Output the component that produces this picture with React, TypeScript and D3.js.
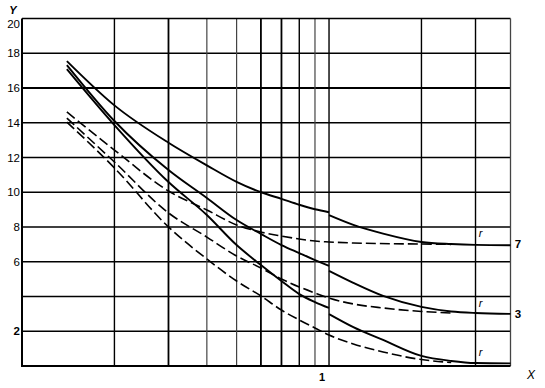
import React from 'react';
import * as d3 from 'd3';

// grid / ticks
const X_GRID = [0.2, 0.3, 0.4, 0.5, 0.6, 0.7, 0.8, 0.9, 1, 2, 3];
const Y_GRID = [2, 4, 6, 8, 10, 12, 14, 16, 18];
const Y_TICK_LABELS = [2, 6, 8, 10, 12, 14, 16, 18, 20];
const X_TICK_LABELS = [1];

// solid curve ending at 7
const SOLID7_LEFT_X = [0.14, 0.2, 0.3, 0.4, 0.5, 0.6, 0.7, 0.8, 0.9, 1.0];
const SOLID7_LEFT_Y = [17.55, 15.0, 12.85, 11.55, 10.6, 10.0, 9.62, 9.28, 9.02, 8.85];
const SOLID7_RIGHT_X = [1.0, 1.2, 1.5, 2.0, 2.5, 3.0, 3.9];
const SOLID7_RIGHT_Y = [8.68, 8.12, 7.62, 7.14, 7.02, 6.97, 6.95];

// solid curve ending at 3
const SOLID3_LEFT_X = [0.14, 0.2, 0.3, 0.4, 0.5, 0.6, 0.7, 0.8, 0.9, 1.0];
const SOLID3_LEFT_Y = [17.32, 14.1, 11.28, 9.67, 8.4, 7.6, 6.96, 6.5, 6.1, 5.76];
const SOLID3_RIGHT_X = [1.0, 1.2, 1.5, 2.0, 2.5, 3.0, 3.9];
const SOLID3_RIGHT_Y = [5.47, 4.78, 4.03, 3.4, 3.14, 3.05, 3.0];

// solid curve ending near 0
const SOLID0_LEFT_X = [0.14, 0.2, 0.3, 0.4, 0.5, 0.6, 0.7, 0.8, 0.9, 1.0];
const SOLID0_LEFT_Y = [17.09, 13.87, 10.59, 8.69, 6.96, 5.81, 4.89, 4.14, 3.68, 3.34];
const SOLID0_RIGHT_X = [1.0, 1.2, 1.5, 2.0, 2.5, 3.0, 3.9];
const SOLID0_RIGHT_Y = [2.99, 2.24, 1.5, 0.58, 0.29, 0.17, 0.15];

// dashed curves
const DASH7_X = [0.14, 0.2, 0.3, 0.4, 0.5, 0.6, 0.7, 0.8, 0.9, 1.0, 1.2, 2.0, 2.5];
const DASH7_Y = [14.62, 12.43, 10.07, 8.98, 8.12, 7.71, 7.48, 7.31, 7.19, 7.14, 7.08, 7.02, 7.0];
const DASH3_X = [0.14, 0.2, 0.3, 0.4, 0.5, 0.6, 0.7, 0.8, 0.9, 1.0, 1.2, 1.5, 2.0, 2.5];
const DASH3_Y = [14.27, 11.74, 8.81, 7.42, 6.33, 5.64, 5.01, 4.55, 4.2, 3.91, 3.57, 3.34, 3.14, 3.05];
const DASH0_X = [0.14, 0.2, 0.3, 0.4, 0.5, 0.6, 0.7, 0.8, 0.9, 1.0, 1.2, 1.5, 2.0, 2.5];
const DASH0_Y = [14.04, 11.4, 8.0, 6.16, 4.89, 4.03, 3.22, 2.65, 2.19, 1.78, 1.27, 0.81, 0.37, 0.2];

// end labels
const END_LABELS = ['7', '3'];
const END_VALUES = [7, 3];
const R_VALUES = [7, 3, 0.15];

const W = 545;
const H = 388;
const FONT = '"Liberation Sans", Arial, Helvetica, sans-serif';

const zip = (xs: number[], ys: number[]) => xs.map((v, i) => [v, ys[i]] as [number, number]);

export default function App() {
  const x = d3.scaleLog().domain([0.1, 3.9]).range([22, 510.5]);
  const y = d3.scaleLinear().domain([0, 20]).range([366, 18.5]);
  const line = d3
    .line<[number, number]>()
    .x((d) => x(d[0]))
    .y((d) => y(d[1]))
    .curve(d3.curveMonotoneX);

  const solids = [
    zip(SOLID7_LEFT_X, SOLID7_LEFT_Y),
    zip(SOLID7_RIGHT_X, SOLID7_RIGHT_Y),
    zip(SOLID3_LEFT_X, SOLID3_LEFT_Y),
    zip(SOLID3_RIGHT_X, SOLID3_RIGHT_Y),
    zip(SOLID0_LEFT_X, SOLID0_LEFT_Y),
    zip(SOLID0_RIGHT_X, SOLID0_RIGHT_Y),
  ];
  const dashes = [zip(DASH7_X, DASH7_Y), zip(DASH3_X, DASH3_Y), zip(DASH0_X, DASH0_Y)];

  const [x0, x1] = x.range();
  const [y0, y1] = y.range();
  const heavyX = new Set([0.3, 0.6, 0.7]);
  const lightX = new Set([0.4, 0.5, 0.9]);

  return (
    <svg
      width={W}
      height={H}
      style={{ position: 'absolute', left: 0, top: 0, background: '#fff' }}
      fontFamily={FONT}
    >
      <rect x={0} y={0} width={W} height={H} fill="#fff" />
      {/* horizontal grid */}
      {Y_GRID.map((v) => (
        <line key={'h' + v} x1={x0} x2={x1} y1={y(v)} y2={y(v)} stroke="#000" strokeWidth={v === 16 ? 1.8 : 1.5} />
      ))}
      {/* vertical grid */}
      {X_GRID.map((v) => (
        <line
          key={'v' + v}
          x1={x(v)}
          x2={x(v)}
          y1={y0}
          y2={y1}
          stroke={lightX.has(v) ? '#444' : '#000'}
          strokeWidth={heavyX.has(v) ? 1.8 : lightX.has(v) ? 1.2 : 1.4}
        />
      ))}
      {/* frame */}
      <line x1={x0} x2={x1} y1={y1} y2={y1} stroke="#000" strokeWidth={1.5} />
      <line x1={x1} x2={x1} y1={y0} y2={y1} stroke="#444" strokeWidth={1.3} />
      <line x1={x0} x2={x0} y1={y0 + 1} y2={y1} stroke="#000" strokeWidth={2} />
      <line x1={x0} x2={x1} y1={y0} y2={y0} stroke="#000" strokeWidth={2} />

      {/* curves */}
      {dashes.map((d, i) => (
        <path key={'d' + i} d={line(d) || ''} fill="none" stroke="#000" strokeWidth={1.6} strokeDasharray="10,4" />
      ))}
      {solids.map((d, i) => (
        <path key={'s' + i} d={line(d) || ''} fill="none" stroke="#000" strokeWidth={1.9} />
      ))}

      {/* y tick labels */}
      {Y_TICK_LABELS.map((v) => (
        <text
          key={'yl' + v}
          x={20}
          y={y(v) + (v === 20 ? 5 : 0)}
          dy="0.35em"
          textAnchor="end"
          fontSize={11.5}
          fontWeight={v === 2 ? 700 : 400}
          fill="#000"
        >
          {v}
        </text>
      ))}
      {/* x tick labels */}
      {X_TICK_LABELS.map((v) => (
        <text key={'xl' + v} x={x(v) - 7} y={381} textAnchor="middle" fontSize={11} fontWeight={700} fill="#000">
          {v}
        </text>
      ))}
      {/* axis names */}
      <text x={13} y={14} textAnchor="middle" fontSize={11} fontStyle="italic" fontWeight={700}>
        Y
      </text>
      <text x={531} y={379} textAnchor="middle" fontSize={12} fontStyle="italic">
        X
      </text>

      {/* end labels */}
      {END_LABELS.map((t, i) => (
        <text key={'e' + t} x={518} y={y(END_VALUES[i])} dy="0.35em" textAnchor="middle" fontSize={11.5} fontWeight={700}>
          {t}
        </text>
      ))}
      {R_VALUES.map((v, i) => (
        <text key={'r' + i} x={x(3) + 5} y={y(v) - 7} textAnchor="middle" fontSize={11} fontStyle="italic">
          r
        </text>
      ))}
    </svg>
  );
}
